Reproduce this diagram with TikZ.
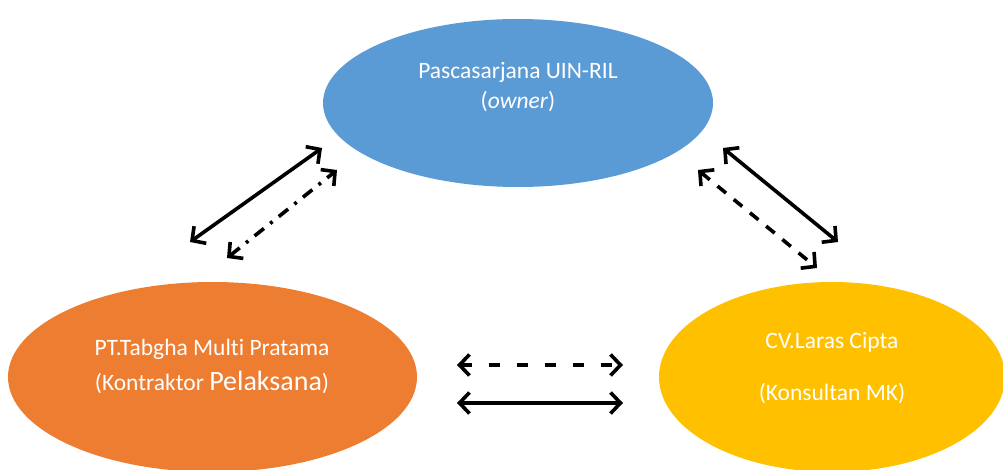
\documentclass[tikz,border=0pt]{standalone}
\usepackage{fontspec}
\setmainfont[Ligatures=NoCommon]{Carlito}
\usetikzlibrary{shapes.geometric,arrows.meta}
\definecolor{cblue}{HTML}{5B9BD5}
\definecolor{corange}{HTML}{ED7D31}
\definecolor{cyellow}{HTML}{FFC000}
\tikzset{
  blob/.style={ellipse,inner sep=0pt,draw=none},
  lbl/.style={anchor=base,text=white,inner sep=0pt,font=\fontsize{23.5}{28}\selectfont},
  rel/.style={line width=3.6pt,{Straight Barb[length=10pt,width=21pt,line width=3.6pt]}-{Straight Barb[length=10pt,width=21pt,line width=3.6pt]}},
  dashrel/.style={rel,dash pattern=on 11pt off 17pt},
  dashrelb/.style={rel,dash pattern=on 11pt off 10pt},
  dotrel/.style={rel,dash pattern=on 12pt off 8pt on 3pt off 8pt}
}
\begin{document}
\begin{tikzpicture}[x=1pt,y=-1pt]
\useasboundingbox (0,0) rectangle (1003,470);
\node[blob,fill=cblue,minimum width=390pt,minimum height=168pt] (own) at (518,103) {};
\node[blob,fill=corange,minimum width=409pt,minimum height=190pt] (kon) at (212.5,377) {};
\node[blob,fill=cyellow,minimum width=346pt,minimum height=190pt] (mk) at (832,377) {};
\node[lbl] (t1) at (518,79) {Pascasarjana UIN-RIL};
\node[lbl] (t2) at (518,109) {(\textit{owner})};
\node[lbl] (t3) at (212,355) {PT.Tabgha Multi Pratama};
\node[lbl] (t4) at (212,390) {(Kontraktor {\fontsize{28}{32}\selectfont Pelaksana})};
\node[lbl] (t5) at (832,348) {CV.Laras Cipta};
\node[lbl] (t6) at (832,400) {(Konsultan MK)};
\coordinate (a1) at (190,242); \coordinate (a2) at (322,148);
\coordinate (b1) at (227,258); \coordinate (b2) at (337,170);
\coordinate (c1) at (723,148); \coordinate (c2) at (838,242);
\coordinate (d1) at (698,170); \coordinate (d2) at (817,268);
\coordinate (e1) at (457,365); \coordinate (e2) at (623,365);
\coordinate (f1) at (457,403); \coordinate (f2) at (623,403);
\draw[rel] (a1) -- (a2);
\draw[dotrel] (b1) -- (b2);
\draw[rel] (c1) -- (c2);
\draw[dashrelb] (d1) -- (d2);
\draw[dashrel] (e1) -- (e2);
\draw[rel] (f1) -- (f2);
\end{tikzpicture}
\end{document}
